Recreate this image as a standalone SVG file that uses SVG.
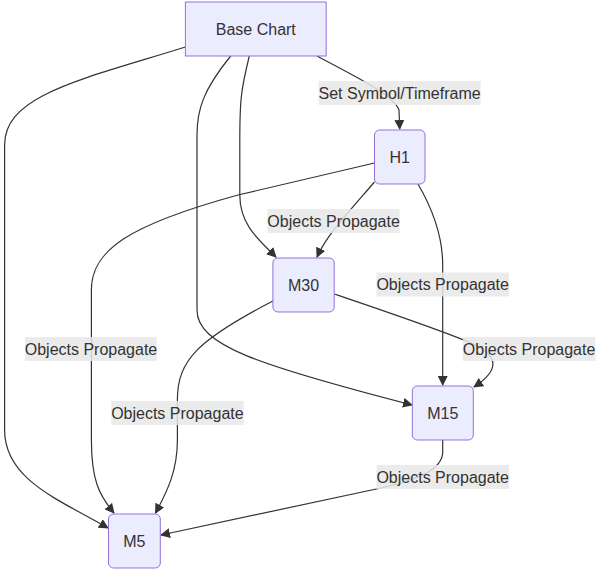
<svg xmlns="http://www.w3.org/2000/svg" width="597" height="570" viewBox="0 0 597 570">
<defs>
<style>
.node rect{fill:#ECECFF;stroke:#9370DB;stroke-width:1}
.node text{font-family:"Liberation Sans",Arial,sans-serif;font-size:16px;fill:#333;text-anchor:middle;dominant-baseline:central}
.edge{fill:none;stroke:#333;stroke-width:1.2}
.lbl rect{fill:#e8e8e8;opacity:0.85}
.lbl text{font-family:"Liberation Sans",Arial,sans-serif;font-size:16px;fill:#333;text-anchor:middle;dominant-baseline:central}
</style>
<marker id="arr" viewBox="0 0 10 10" refX="9" refY="5" markerWidth="10" markerHeight="10" markerUnits="userSpaceOnUse" orient="auto">
<path d="M0,0 L10,5 L0,10 z" fill="#333"/>
</marker>
</defs>
<rect width="597" height="570" fill="#fff"/>
<g id="connectors">
<path class="edge" marker-end="url(#arr)" d="M317,56 C356,77 394,95 399,110 L399.7,129"/>
<path class="edge" marker-end="url(#arr)" d="M185.4,47 C80,80 4.6,95 4.6,145 L4.6,430 C4.6,480 60,500 108,528"/>
<path class="edge" marker-end="url(#arr)" d="M230.7,56 C203,90 197,110 197,135 L197,310 C197,345 257,365 412,405"/>
<path class="edge" marker-end="url(#arr)" d="M249.3,56 C241,90 239.8,100 239.8,140 L239.8,195 C239.8,225 259,240 276,257"/>
<path class="edge" marker-end="url(#arr)" d="M374.5,182 C346,215 327,235 317,257"/>
<path class="edge" marker-end="url(#arr)" d="M418,184 C436,215 442.7,240 442.7,265 L442.7,385"/>
<path class="edge" marker-end="url(#arr)" d="M374.5,163 L238,195 C129,225 91.4,250 91.4,290 L91.4,440 C91.4,480 99,495 114,513"/>
<path class="edge" marker-end="url(#arr)" d="M334.2,294 C396,315 455,335 475,345 C495,355 503,368 474,387"/>
<path class="edge" marker-end="url(#arr)" d="M272.9,301 C198,340 177.4,360 177.4,400 L177.4,440 C177.4,470 168,490 155.5,513"/>
<path class="edge" marker-end="url(#arr)" d="M442.7,440 L442.7,452 C442.7,470 416,480 381,488 L161,535"/>
<g class="lbl"><rect x="318.6" y="81" width="162" height="24"/><text x="399.6" y="93">Set Symbol/Timeframe</text></g>
<g class="lbl"><rect x="267.6" y="209" width="132" height="24"/><text x="333.6" y="221">Objects Propagate</text></g>
<g class="lbl"><rect x="376.5" y="272.5" width="132.5" height="24"/><text x="442.7" y="284.5">Objects Propagate</text></g>
<g class="lbl"><rect x="25.1" y="337" width="131.7" height="24"/><text x="91" y="349">Objects Propagate</text></g>
<g class="lbl"><rect x="462.9" y="337" width="132.5" height="24"/><text x="529.1" y="349">Objects Propagate</text></g>
<g class="lbl"><rect x="111.2" y="401" width="132.4" height="24"/><text x="177.4" y="413">Objects Propagate</text></g>
<g class="lbl"><rect x="376.5" y="465" width="132.5" height="24"/><text x="442.7" y="477">Objects Propagate</text></g>
</g>
<g id="base" class="node"><rect x="185.4" y="2" width="140.8" height="54"/><text x="255.8" y="29">Base Chart</text></g>
<g id="h1" class="node"><rect x="374.5" y="130" width="50.5" height="54" rx="5"/><text x="399.7" y="157">H1</text></g>
<g id="m30" class="node"><rect x="272.9" y="258" width="61.3" height="54" rx="5"/><text x="303.5" y="285">M30</text></g>
<g id="m15" class="node"><rect x="412.3" y="386" width="61" height="54" rx="5"/><text x="442.8" y="413">M15</text></g>
<g id="m5" class="node"><rect x="108.5" y="514" width="51.8" height="54" rx="5"/><text x="134.4" y="541">M5</text></g>
</svg>
